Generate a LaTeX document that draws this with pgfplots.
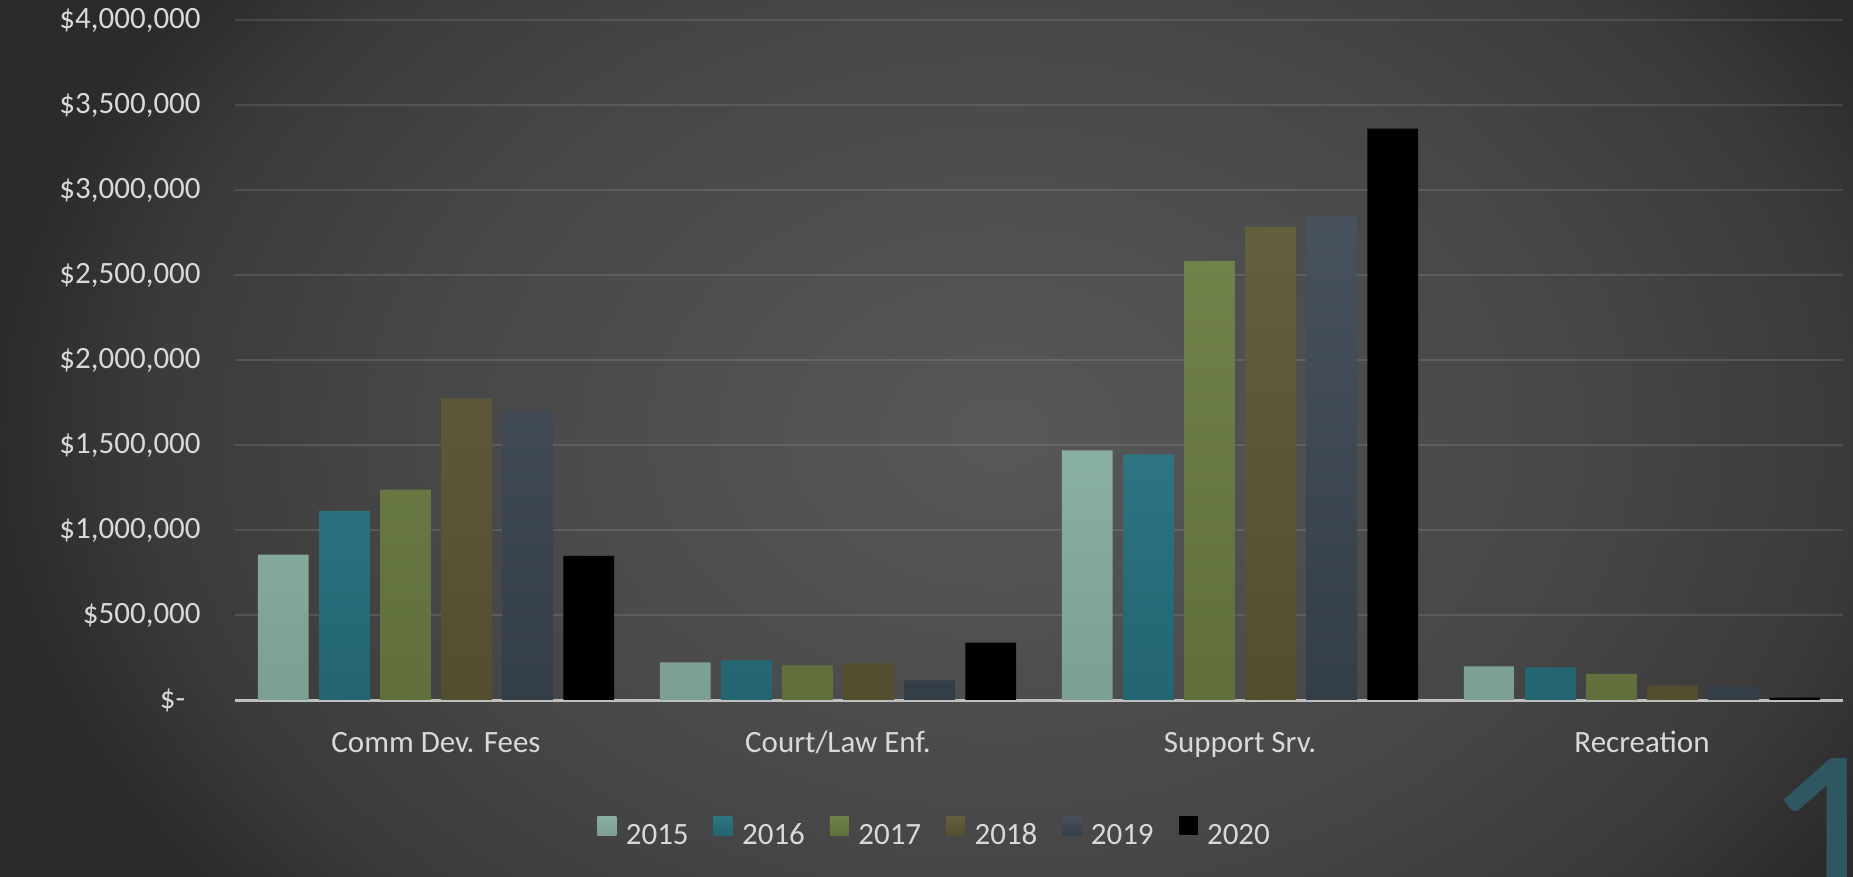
\documentclass[border=0pt]{standalone}
\usepackage{pgfplots}
\pgfplotsset{compat=1.18}
\usepackage{fontspec}
\setmainfont{Carlito}
\definecolor{txt}{HTML}{D9D9D9}
\definecolor{bgin}{HTML}{585858}
\definecolor{bgm1}{HTML}{464646}
\definecolor{bgm2}{HTML}{3A3A3A}
\definecolor{bgout}{HTML}{2B2B2B}
\definecolor{c15}{HTML}{8AB0A1}
\definecolor{c15d}{HTML}{7B9F91}
\definecolor{c16}{HTML}{2E7482}
\definecolor{c16d}{HTML}{236571}
\definecolor{c17}{HTML}{71814A}
\definecolor{c17d}{HTML}{606F3B}
\definecolor{c18}{HTML}{635E3D}
\definecolor{c18d}{HTML}{534E2E}
\definecolor{c19}{HTML}{48515E}
\definecolor{c19d}{HTML}{343E48}
\definecolor{c20}{HTML}{000000}
\definecolor{slnum}{HTML}{2E5761}
\definecolor{basel}{HTML}{BFBFBF}
\pgfdeclareradialshading{bgshade}{\pgfpoint{0bp}{0bp}}{color(0bp)=(bgin); color(15bp)=(bgm1); color(21.25bp)=(bgm2); color(25bp)=(bgout); color(50bp)=(bgout)}
\newcommand{\lab}{\fontsize{15.5bp}{18bp}\selectfont}
\begin{document}
\begin{tikzpicture}
\path[use as bounding box] (0,0) rectangle (926.5bp,438.5bp);
\fill[bgout] (0,0) rectangle (926.5bp,438.5bp);
\begin{scope}
\clip (0,0) rectangle (926.5bp,438.5bp);
\shade[shading=bgshade] (500bp,222bp) ellipse (502bp and 366bp);
\end{scope}
\begin{axis}[
  scale only axis, width=804bp, height=339.75bp,
  at={(117.5bp,88.5bp)}, anchor=south west,
  xmin=-0.5, xmax=3.5, ymin=0, ymax=4000000,
  axis lines*=left,
  axis line style={-},
  y axis line style={draw=none},
  x axis line style={draw=basel, line width=1.5bp},
  ymajorgrids,
  major grid style={white, opacity=0.11, line width=1bp},
  major tick length=0pt, tick style={draw=none},
  scaled y ticks=false,
  ytick={0,500000,1000000,1500000,2000000,2500000,3000000,3500000,4000000},
  yticklabels={{\$-\kern7.7bp},{\$500,000},{\$1,000,000},{\$1,500,000},{\$2,000,000},{\$2,500,000},{\$3,000,000},{\$3,500,000},{\$4,000,000}},
  xtick={0,1,2,3},
  xticklabels={{Comm Dev. Fees},{Court/Law Enf.},{Support Srv.},{Recreation}},
  yticklabel style={anchor=east, inner sep=0pt, xshift=-17bp, text=txt, font=\lab},
  xticklabel style={anchor=base, inner sep=0pt, yshift=-26bp, text=txt, font=\lab},
  ybar, bar width=25.4bp,
  legend columns=6,
  legend style={at={(0.4345,-0.1943)}, anchor=center, draw=none, fill=none,
    text=txt, font=\lab, nodes={inner sep=0pt},
    /tikz/every odd column/.append style={column sep=4.7bp},
    /tikz/every even column/.append style={column sep=12.5bp}},
  legend image code/.code={\fill[#1] (0bp,0.3bp) rectangle (9.5bp,9.8bp);},
]
\addplot[draw=none, top color=c15, bottom color=c15d, bar shift=-76.4bp] coordinates {(0,856000) (1,221000) (2,1469000) (3,198000)};
\addplot[draw=none, top color=c16, bottom color=c16d, bar shift=-45.8bp] coordinates {(0,1114000) (1,233000) (2,1446000) (3,192000)};
\addplot[draw=none, top color=c17, bottom color=c17d, bar shift=-15.3bp] coordinates {(0,1238000) (1,204000) (2,2585000) (3,154000)};
\addplot[draw=none, top color=c18, bottom color=c18d, bar shift=15.3bp] coordinates {(0,1775000) (1,215000) (2,2786000) (3,85000)};
\addplot[draw=none, top color=c19, bottom color=c19d, bar shift=45.8bp] coordinates {(0,1704000) (1,115000) (2,2845000) (3,79000)};
\addplot[draw=none, fill=c20, bar shift=76.4bp] coordinates {(0,849000) (1,338000) (2,3364000) (3,14000)};
\legend{2015,2016,2017,2018,2019,2020}
\end{axis}
\node[anchor=base west, inner sep=0pt, text=slnum, font=\fontsize{125bp}{125bp}\selectfont] at (881bp,-21bp) {1};
\end{tikzpicture}
\end{document}
